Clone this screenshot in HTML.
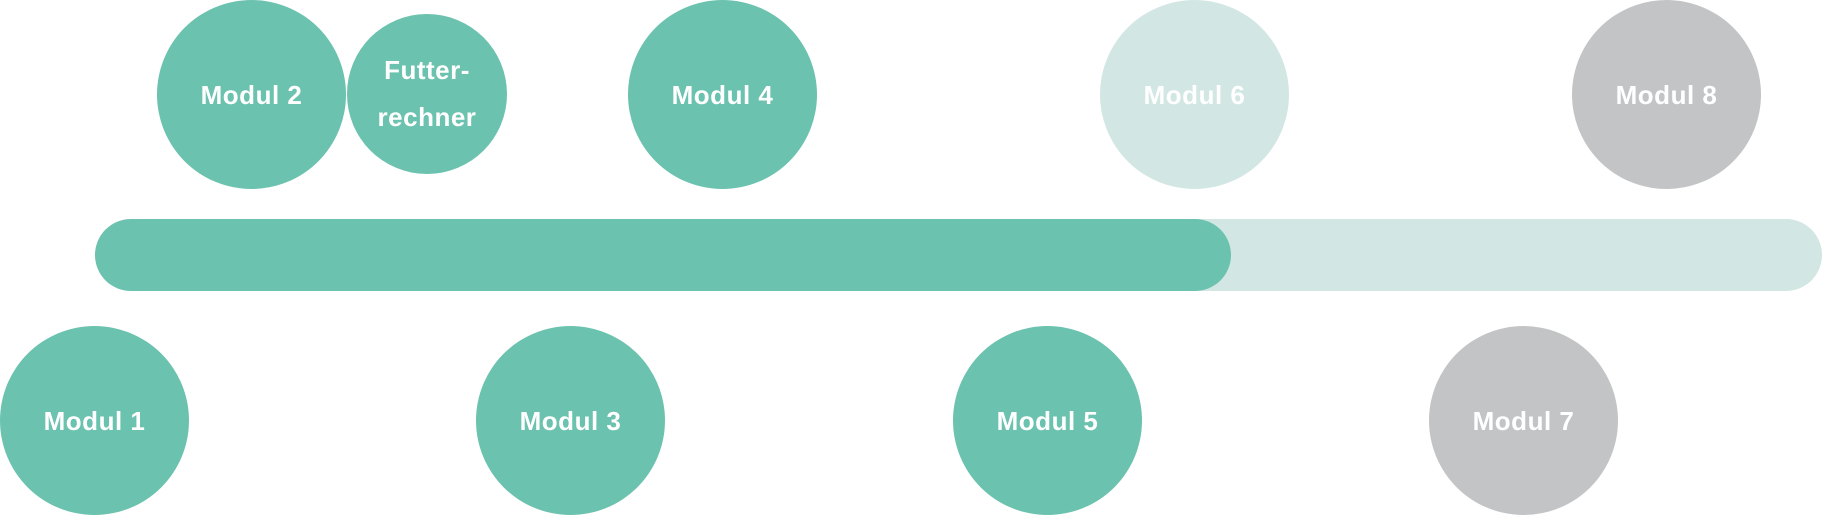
<!DOCTYPE html>
<html><head><meta charset="utf-8"><style>
html,body{margin:0;padding:0;background:#fff}
body{width:1824px;height:518px;position:relative;overflow:hidden;font-family:"Liberation Sans",sans-serif}
.c{position:absolute;border-radius:50%;display:flex;align-items:center;justify-content:center;color:#fff;font-weight:bold;font-size:26px;letter-spacing:0.5px;text-align:center;line-height:34px;width:189px;height:189px}
.g{background:#6bc2ae}.l{background:#d2e7e3}.y{background:#c3c4c6}
.bar{position:absolute;top:219px;height:72px;border-radius:36px}
</style></head><body>
<div class="bar l" style="left:95px;width:1727px"></div>
<div class="bar g" style="left:95px;width:1136px"></div>
<div class="c g" style="left:157px;top:0">Modul 2</div>
<div class="c g" style="left:347px;top:14px;width:160px;height:160px;line-height:47px">Futter-<br>rechner</div>
<div class="c g" style="left:628px;top:0">Modul 4</div>
<div class="c l" style="left:1100px;top:0">Modul 6</div>
<div class="c y" style="left:1572px;top:0">Modul 8</div>
<div class="c g" style="left:0;top:326px">Modul 1</div>
<div class="c g" style="left:476px;top:326px">Modul 3</div>
<div class="c g" style="left:953px;top:326px">Modul 5</div>
<div class="c y" style="left:1429px;top:326px">Modul 7</div>
</body></html>
